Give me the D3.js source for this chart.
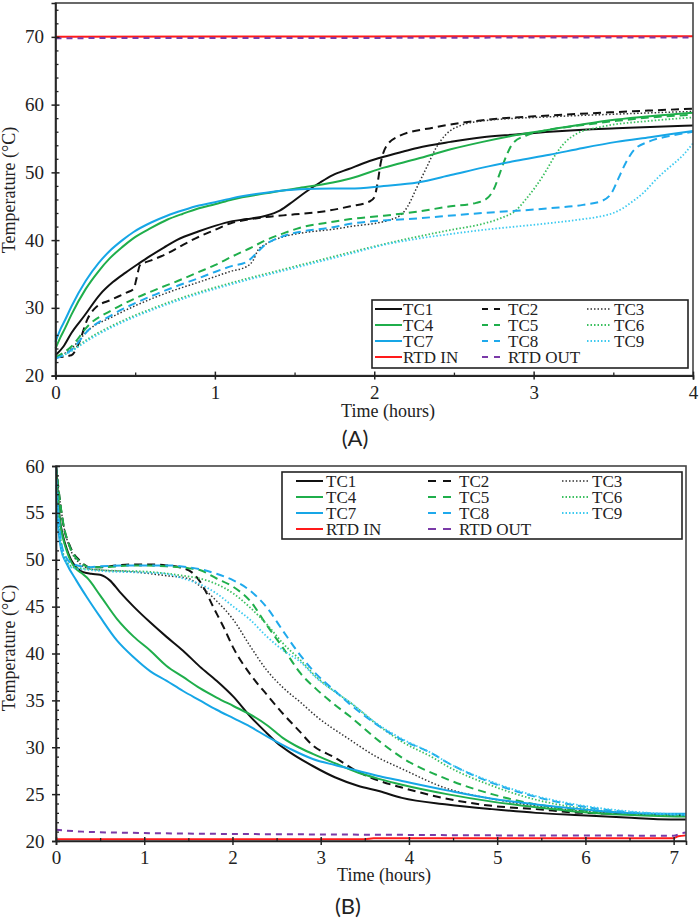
<!DOCTYPE html>
<html>
<head>
<meta charset="utf-8">
<script src="https://cdn.jsdelivr.net/npm/d3@7"></script>
<style>
  body { margin: 0; background: #fff; }
  svg { display: block; }
</style>
</head>
<body>
<svg id="chart" width="699" height="919"></svg>
<script>
// series names, in legend order
var names = ["TC1", "TC2", "TC3", "TC4", "TC5", "TC6", "TC7", "TC8", "TC9", "RTD IN", "RTD OUT"];

// panel A : charging, [time (h), temperature (C)]
var tc1A = [[0,23],[0.05,24.3],[0.1,26.3],[0.18,28.8],[0.28,32],[0.36,33.8],[0.44,35.2],[0.52,36.5],[0.59,37.6],[0.68,38.9],[0.76,40],[0.9,41.3],[1.0,42.1],[1.11,42.8],[1.2,43.1],[1.32,43.6],[1.41,44.4],[1.49,45.7],[1.57,47.1],[1.66,48.5],[1.74,49.6],[1.84,50.5],[1.95,51.5],[2.06,52.3],[2.17,53],[2.27,53.6],[2.48,54.5],[2.68,55.2],[2.89,55.6],[3.1,56],[3.31,56.3],[3.52,56.5],[3.73,56.7],[4,56.9]];
var tc2A = [[0,22.7],[0.1,23],[0.15,25],[0.2,28.3],[0.25,30],[0.35,31.2],[0.45,32.3],[0.49,32.8],[0.51,34.5],[0.53,36.3],[0.6,37],[0.7,38],[0.8,39.3],[0.9,40.5],[1.0,41.5],[1.1,42.5],[1.2,43],[1.32,43.4],[1.5,43.8],[1.7,44.3],[1.85,45],[1.97,45.7],[2.0,46.3],[2.02,48.3],[2.04,51.3],[2.08,54],[2.16,55.4],[2.37,56.6],[2.68,57.7],[3.1,58.4],[3.52,58.9],[4,59.4]];
var tc3A = [[0,22.5],[0.1,24],[0.21,26.8],[0.35,28.6],[0.49,30.2],[0.63,31.6],[0.77,32.8],[0.9,33.8],[1.0,34.6],[1.1,35.4],[1.2,36.1],[1.24,37],[1.27,38.5],[1.32,39.4],[1.43,40.5],[1.53,41],[1.74,41.6],[1.85,42],[2.1,43],[2.18,44],[2.21,45],[2.27,47.9],[2.33,50.8],[2.39,53.7],[2.45,55.6],[2.54,56.9],[2.68,57.6],[3.1,58.2],[3.52,58.6],[4,59]];
var tc4A = [[0,24],[0.03,25.6],[0.06,27],[0.1,29],[0.19,32.8],[0.27,35.4],[0.34,37.3],[0.42,39],[0.49,40.3],[0.6,41.8],[0.7,43],[0.8,43.9],[0.9,44.7],[1.0,45.3],[1.11,46],[1.32,46.9],[1.53,47.7],[1.74,48.5],[1.85,49.1],[2.06,50.7],[2.27,52],[2.48,53.4],[2.68,54.5],[2.89,55.5],[3.1,56.3],[3.31,57.1],[3.52,57.8],[3.73,58.3],[4,58.8]];
var tc5A = [[0,22.7],[0.1,24.3],[0.21,27.5],[0.35,29.6],[0.49,31.3],[0.63,32.7],[0.77,34],[0.9,35.3],[1.0,36.3],[1.11,37.6],[1.22,38.8],[1.32,40],[1.43,41],[1.53,41.8],[1.74,42.7],[1.85,43.1],[2.06,43.6],[2.27,44.2],[2.48,45],[2.64,45.5],[2.71,46.2],[2.75,47.5],[2.79,50],[2.83,52.5],[2.87,54.3],[2.96,55.5],[3.1,56.3],[3.31,57],[3.52,57.6],[3.73,58.1],[4,58.5]];
var tc6A = [[0,22.5],[0.1,23.7],[0.21,25.5],[0.35,27.3],[0.49,28.8],[0.63,30.1],[0.77,31.3],[0.9,32.3],[1.0,33],[1.2,34.3],[1.4,35.5],[1.6,36.7],[1.85,38.2],[2.06,39.4],[2.27,40.5],[2.48,41.5],[2.68,42.4],[2.8,43.3],[2.89,44.4],[2.95,46],[3.01,47.8],[3.08,50.3],[3.14,52.7],[3.2,54.5],[3.27,55.7],[3.42,56.7],[3.73,57.6],[4,58.1]];
var tc7A = [[0,25],[0.03,26.8],[0.06,28.2],[0.1,30.2],[0.19,34],[0.27,36.6],[0.34,38.4],[0.42,40],[0.49,41.2],[0.6,42.6],[0.7,43.6],[0.8,44.4],[0.9,45.1],[1.0,45.6],[1.11,46.2],[1.32,47],[1.53,47.5],[1.74,47.6],[1.85,47.6],[2.06,48],[2.27,48.5],[2.48,49.6],[2.68,50.7],[2.89,51.7],[3.1,52.6],[3.31,53.6],[3.52,54.5],[3.73,55.2],[4,56.1]];
var tc8A = [[0,22.5],[0.1,23.8],[0.21,26.8],[0.35,28.9],[0.49,30.6],[0.63,32],[0.77,33.3],[0.9,34.4],[1.0,35.3],[1.11,36.2],[1.2,36.8],[1.25,37.8],[1.3,39],[1.43,40.6],[1.53,41.2],[1.74,41.9],[1.85,42.4],[2.27,43.2],[2.68,44],[3.1,44.7],[3.31,45.2],[3.43,45.8],[3.49,47],[3.53,49],[3.58,51.5],[3.63,53.3],[3.73,54.6],[3.86,55.4],[4,56]];
var tc9A = [[0,22.5],[0.1,23.6],[0.21,25.3],[0.35,27.1],[0.49,28.6],[0.63,29.9],[0.77,31.1],[0.9,32.1],[1.0,32.8],[1.2,34.1],[1.4,35.3],[1.6,36.5],[1.85,38],[2.06,39.3],[2.27,40.2],[2.48,40.9],[2.68,41.5],[2.89,42],[3.1,42.5],[3.31,43.1],[3.42,43.5],[3.5,44],[3.56,44.7],[3.62,45.7],[3.69,47],[3.75,48.5],[3.81,49.9],[3.88,51.3],[3.94,52.6],[4,54.3]];
var rtdInA = [[0,70],[1,70.05],[2,70.05],[3,70.1],[4,70.1]];
var rtdOutA = [[0,69.8],[1,69.85],[2,69.85],[3,69.9],[4,69.9]];

// panel B : discharging
var tc1B = [[0,60],[0.02,57],[0.04,54.6],[0.08,52.5],[0.12,51.2],[0.17,50],[0.23,49.2],[0.3,48.7],[0.4,48.5],[0.5,48.4],[0.61,47.8],[0.72,46.6],[0.88,45],[1.07,43.3],[1.25,41.8],[1.44,40.3],[1.63,38.6],[1.82,37.1],[2.01,35.4],[2.2,33.3],[2.39,31.5],[2.5,30.5],[2.66,29.4],[2.91,28],[3.16,26.8],[3.42,25.9],[3.67,25.3],[3.92,24.6],[4.43,23.9],[4.94,23.4],[5.44,23],[5.95,22.75],[6.46,22.5],[6.97,22.3],[7.14,22.3]];
var tc2B = [[0,60],[0.03,57.4],[0.08,53.9],[0.16,51.4],[0.27,49.9],[0.39,49.2],[0.5,49.2],[0.69,49.4],[0.88,49.5],[1.07,49.5],[1.25,49.4],[1.4,49.2],[1.56,48.5],[1.67,47.1],[1.78,45],[1.9,42.8],[2.01,40.6],[2.2,37.8],[2.39,35.6],[2.58,33.5],[2.75,31.8],[2.91,30.2],[3.16,28.9],[3.42,27.4],[3.67,26.4],[3.92,25.7],[4.43,24.5],[4.94,23.75],[5.44,23.4],[5.95,23],[6.46,22.9],[7.14,22.75]];
var tc3B = [[0,60],[0.03,57.4],[0.08,54],[0.16,51.2],[0.27,49.6],[0.39,49],[0.5,48.9],[0.88,48.7],[1.25,48.3],[1.5,48],[1.63,47.2],[1.82,45.6],[2.01,43.6],[2.2,40.8],[2.39,38.2],[2.58,36.3],[2.77,34.8],[2.95,33.3],[3.3,31],[3.63,29],[3.92,27.7],[4.43,25.6],[4.94,24.5],[5.44,23.75],[5.95,23.2],[6.46,22.9],[7.14,22.7]];
var tc4B = [[0,59.5],[0.02,57],[0.04,54.5],[0.08,52.3],[0.12,51],[0.17,49.8],[0.23,49],[0.3,48.5],[0.35,48.1],[0.5,46.2],[0.69,43.7],[0.88,41.8],[1.07,40.3],[1.25,38.7],[1.44,37.5],[1.63,36.3],[1.82,35.3],[2.01,34.4],[2.2,33.5],[2.4,32.3],[2.57,31],[2.75,30],[2.91,29.3],[3.16,28.3],[3.42,27.3],[3.67,26.6],[3.92,26],[4.43,25],[4.94,24.2],[5.44,23.6],[5.95,23.1],[6.46,22.8],[7.14,22.6]];
var tc5B = [[0,60],[0.03,57.4],[0.08,54],[0.16,51.3],[0.27,49.8],[0.39,49.2],[0.5,49.2],[0.88,49.4],[1.25,49.3],[1.5,49.1],[1.63,48.9],[1.82,48],[2.01,47.1],[2.2,45.6],[2.39,43],[2.58,40.5],[2.77,37.9],[2.95,36.2],[3.15,34.6],[3.33,33.3],[3.67,30.6],[3.92,28.9],[4.43,26.6],[4.94,25],[5.44,23.9],[5.95,23.3],[6.46,23],[7.14,22.8]];
var tc6B = [[0,60],[0.02,56],[0.05,52.5],[0.1,50.2],[0.2,49.2],[0.39,49],[0.5,48.9],[1.07,48.7],[1.44,48.3],[1.63,48],[1.82,47.4],[2.01,46.4],[2.2,44.9],[2.39,43.1],[2.58,41],[2.77,39.3],[2.95,37.5],[3.15,36],[3.33,34.8],[3.67,32.2],[3.92,30.6],[4.27,28.9],[4.43,28],[4.94,25.9],[5.44,24.4],[5.95,23.5],[6.46,23],[7.14,22.7]];
var tc7B = [[0,58],[0.01,55.5],[0.025,53.5],[0.06,51],[0.12,49.6],[0.23,47.8],[0.35,46],[0.5,43.9],[0.69,41.4],[0.88,39.6],[1.07,38.1],[1.25,37.1],[1.44,36],[1.63,35],[1.82,34],[2.01,33.1],[2.2,32.2],[2.4,31.1],[2.66,29.8],[2.91,28.75],[3.16,28.1],[3.42,27.5],[3.67,26.9],[3.92,26.4],[4.43,25.4],[4.94,24.5],[5.44,23.9],[5.95,23.4],[6.46,23],[7.14,22.9]];
var tc8B = [[0,60],[0.02,56],[0.05,52.5],[0.1,50.5],[0.2,49.5],[0.39,49.2],[0.5,49.3],[0.88,49.4],[1.25,49.4],[1.5,49.2],[1.63,49],[1.82,48.5],[2.01,47.8],[2.2,46.7],[2.39,44.9],[2.58,42.3],[2.77,39.8],[2.95,37.8],[3.15,36.1],[3.33,34.6],[3.67,32.2],[3.92,30.8],[4.27,29.3],[4.43,28.4],[4.94,26.2],[5.44,24.7],[5.95,23.7],[6.46,23.1],[7.14,22.8]];
var tc9B = [[0,59],[0.02,55],[0.05,51.8],[0.1,50],[0.2,49.1],[0.39,48.9],[0.5,48.8],[1.07,48.6],[1.25,48.5],[1.44,48],[1.63,47.4],[1.82,46.4],[2.01,45],[2.2,43.6],[2.39,41.8],[2.58,40.3],[2.77,39.1],[2.95,37.4],[3.15,36],[3.33,34.8],[3.67,32.3],[3.92,30.9],[4.27,29.3],[4.43,28.4],[4.94,26.3],[5.44,24.8],[5.95,23.8],[6.46,23.2],[7.14,22.8]];
var rtdInB = [[0,20.2],[2,20.2],[3.5,20.2],[3.6,20.3],[7.0,20.3],[7.05,20.5],[7.14,20.6]];
var rtdOutB = [[0,21.2],[0.3,21],[1,20.85],[2,20.75],[3,20.7],[4,20.65],[5,20.6],[6,20.6],[7,20.55],[7.08,20.8],[7.14,20.9]];

// tick labels
var xTicksA = [0, 1, 2, 3, 4];
var yTicksA = [20, 30, 40, 50, 60, 70];
var xTicksB = [0, 1, 2, 3, 4, 5, 6, 7];
var yTicksB = [20, 25, 30, 35, 40, 45, 50, 55, 60];

// styles
var colors = ["#111", "#111", "#333", "#1fae4b", "#1fae4b", "#3cc060", "#16a6e6", "#1fa9ec", "#3ccaf0", "#ff1a1a", "#7a3aa8"];
var dashes = [null, "8,5", "1.5,2", null, "8,5", "1.5,2", null, "8,5", "1.5,2", null, "6,5"];
var widths = [2, 2, 1.5, 2, 2, 1.8, 2, 2, 1.8, 2, 2];

var svg = d3.select("#chart");
var serif = "'Liberation Serif', 'Times New Roman', serif";

function drawPanel(cfg) {
    var g = svg.append("g");
    var x = cfg.x, y = cfg.y;
    var x0 = x.range()[0], x1 = x.range()[1];
    var y0 = y.range()[0], y1 = y.range()[1];

    var line = d3.line()
        .x(function (d) { return x(d[0]); })
        .y(function (d) { return y(d[1]); })
        .curve(d3.curveMonotoneX);

    cfg.series.forEach(function (s, i) {
        g.append("path")
            .datum(s)
            .attr("d", line)
            .attr("fill", "none")
            .attr("stroke", colors[i])
            .attr("stroke-width", widths[i])
            .attr("stroke-dasharray", dashes[i]);
    });

    // frame
    g.append("rect")
        .attr("x", x0).attr("y", y1)
        .attr("width", x1 - x0).attr("height", y0 - y1)
        .attr("fill", "none")
        .attr("stroke", "#444")
        .attr("stroke-width", 1.6);

    // minor ticks (inside)
    g.append("g")
        .attr("transform", "translate(0," + y0 + ")")
        .call(d3.axisBottom(x).tickValues(cfg.xMinor).tickSize(-3).tickFormat(""))
        .call(function (a) { a.select(".domain").remove(); a.selectAll("line").attr("stroke", "#222").attr("stroke-width", 1.3); });
    g.append("g")
        .attr("transform", "translate(" + x0 + ",0)")
        .call(d3.axisLeft(y).tickValues(cfg.yMinor).tickSize(-3).tickFormat(""))
        .call(function (a) { a.select(".domain").remove(); a.selectAll("line").attr("stroke", "#222").attr("stroke-width", 1.3); });

    // major ticks, crossing the axis
    var xa = g.append("g")
        .attr("transform", "translate(0," + y0 + ")")
        .call(d3.axisBottom(x).tickValues(cfg.xTicks).tickSize(4).tickPadding(6).tickFormat(d3.format("d")));
    xa.select(".domain").attr("stroke", "#222").attr("stroke-width", 1.6);
    xa.selectAll("line").attr("y1", -4).attr("y2", 4).attr("stroke", "#222").attr("stroke-width", 1.5);
    xa.selectAll("text").attr("font-family", serif).attr("font-size", 19).attr("fill", "#222");

    var ya = g.append("g")
        .attr("transform", "translate(" + x0 + ",0)")
        .call(d3.axisLeft(y).tickValues(cfg.yTicks).tickSize(4).tickPadding(7.5).tickFormat(d3.format("d")));
    ya.select(".domain").attr("stroke", "#222").attr("stroke-width", 1.6);
    ya.selectAll("line").attr("x1", -4).attr("x2", 4).attr("stroke", "#222").attr("stroke-width", 1.5);
    ya.selectAll("text").attr("font-family", serif).attr("font-size", 19).attr("fill", "#222");

    // axis titles
    g.append("text")
        .attr("x", cfg.xTitle[0]).attr("y", cfg.xTitle[1])
        .attr("text-anchor", "middle")
        .attr("font-family", serif).attr("font-size", 18).attr("fill", "#222")
        .text("Time (hours)");
    g.append("text")
        .attr("transform", "translate(" + cfg.yTitle[0] + "," + cfg.yTitle[1] + ") rotate(-90)")
        .attr("text-anchor", "middle")
        .attr("font-family", serif).attr("font-size", 18).attr("fill", "#222")
        .text("Temperature (°C)");

    // panel letter
    g.append("text")
        .attr("x", cfg.letter[0]).attr("y", cfg.letter[1])
        .attr("text-anchor", "middle")
        .attr("font-family", "Lato, 'Open Sans', sans-serif").attr("font-size", 22).attr("fill", "#222")
        .text(cfg.label);

    // legend
    var L = cfg.legend;
    var lg = g.append("g");
    lg.append("rect")
        .attr("x", L.x).attr("y", L.y).attr("width", L.w).attr("height", L.h)
        .attr("fill", "#fff").attr("stroke", "#222").attr("stroke-width", 1.6);
    names.forEach(function (name, i) {
        var r = Math.floor(i / 3), c = i % 3;
        var cy = L.row0 + r * L.rowStep;
        lg.append("line")
            .attr("x1", L.sx[c]).attr("x2", L.sx[c] + L.sw[c])
            .attr("y1", cy).attr("y2", cy)
            .attr("stroke", colors[i])
            .attr("stroke-width", widths[i])
            .attr("stroke-dasharray", dashes[i] ? L.dash[c] : null);
        lg.append("text")
            .attr("x", L.tx[c]).attr("y", cy)
            .attr("dy", "0.36em")
            .attr("font-family", serif).attr("font-size", 17).attr("fill", "#222")
            .text(name);
    });
}

drawPanel({
    x: d3.scaleLinear().domain([0, 4]).range([55.5, 693]),
    y: d3.scaleLinear().domain([20, 75]).range([375.6, 3]),
    series: [tc1A, tc2A, tc3A, tc4A, tc5A, tc6A, tc7A, tc8A, tc9A, rtdInA, rtdOutA],
    xTicks: xTicksA, yTicks: yTicksA,
    xMinor: [0.5, 1.5, 2.5, 3.5],
    yMinor: d3.range(22, 76, 2).filter(function (v) { return v % 10 !== 0; }),
    xTitle: [388, 417], yTitle: [15, 190],
    letter: [355, 446], label: "(A)",
    legend: { x: 372, y: 300, w: 316, h: 68, row0: 309, rowStep: 16,
              sx: [375, 482, 587], sw: [27, 18, 23], tx: [403, 508, 614],
              dash: ["", "6,6", "1.5,2"] }
});

drawPanel({
    x: d3.scaleLinear().domain([0, 7.14]).range([56, 686]),
    y: d3.scaleLinear().domain([20, 60]).range([841, 466]),
    series: [tc1B, tc2B, tc3B, tc4B, tc5B, tc6B, tc7B, tc8B, tc9B, rtdInB, rtdOutB],
    xTicks: xTicksB, yTicks: yTicksB,
    xMinor: [0.5, 1.5, 2.5, 3.5, 4.5, 5.5, 6.5],
    yMinor: d3.range(21, 60, 1).filter(function (v) { return v % 5 !== 0; }),
    xTitle: [384, 881], yTitle: [15, 648],
    letter: [348, 914], label: "(B)",
    legend: { x: 282, y: 472, w: 400, h: 67, row0: 481, rowStep: 16,
              sx: [296, 428, 562], sw: [27, 23, 26], tx: [326, 459, 592],
              dash: ["", "8,7", "1.5,2"] }
});
</script>
</body>
</html>
